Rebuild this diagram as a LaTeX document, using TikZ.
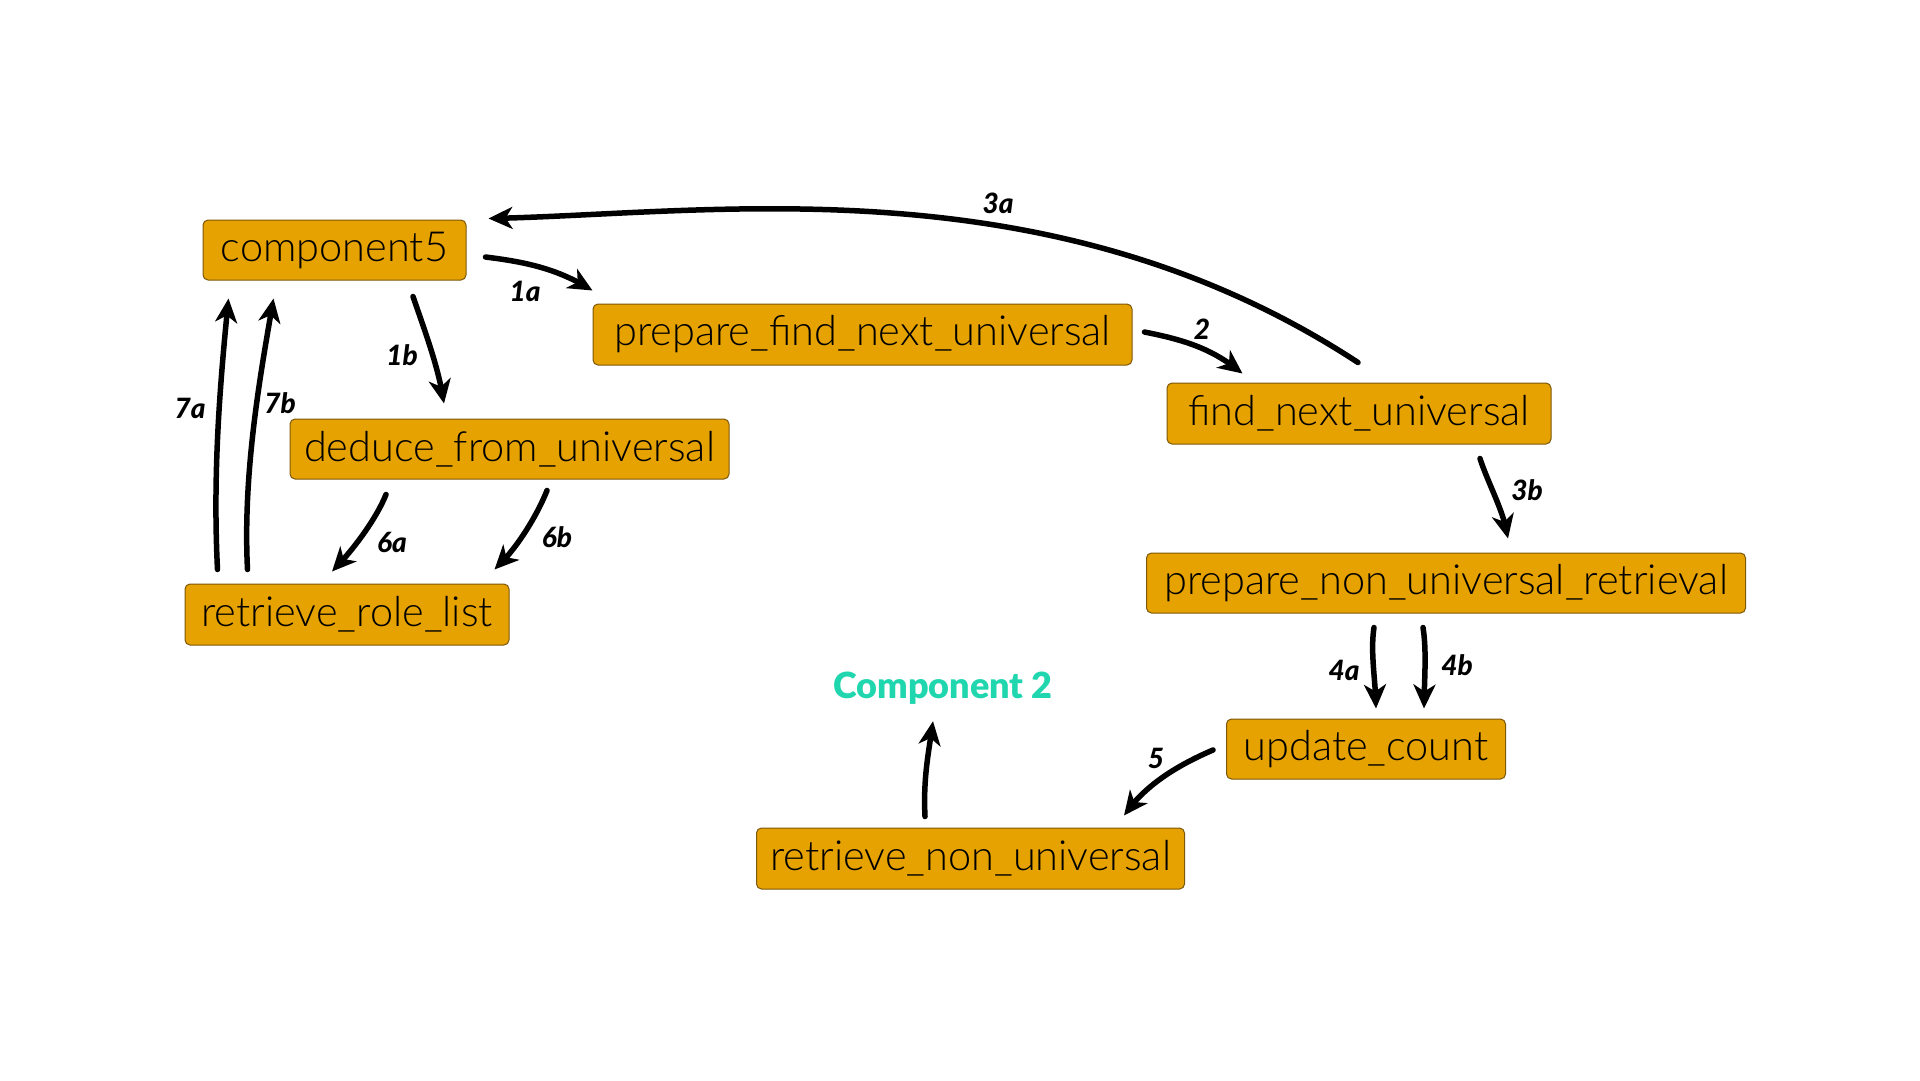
\documentclass[tikz,border=0pt]{standalone}
\usepackage{fontspec}
\setmainfont{Lato}
\newfontfamily\boxfont{Lato Light}
\newfontfamily\labfont{Lato Black}[ItalicFont={Lato Black Italic}]
\usetikzlibrary{arrows.meta,bending,calc}
\definecolor{boxfill}{RGB}{230,162,0}
\definecolor{boxline}{RGB}{125,88,10}
\definecolor{tealc}{RGB}{32,214,174}
\begin{document}
\begin{tikzpicture}[x=1pt,y=-1pt,
  box/.style={draw=boxline, line width=1pt, fill=boxfill, rounded corners=5pt, inner sep=0pt,
    font=\boxfont\fontsize{41.5}{48}\selectfont, anchor=center},
  flow/.style={line width=5.5pt, line cap=round, -{Stealth[length=24pt,width=22pt,inset=7pt,flex]}},
  lab/.style={font=\labfont\itshape\fontsize{28}{32}\selectfont, inner sep=0pt}]
\useasboundingbox[fill=white] (0,0) rectangle (1920,1080);

\node[box, minimum width=263pt, minimum height=60pt] (c5) at (334.5,250) {component5};
\node[box, minimum width=539pt, minimum height=61pt] (pfn) at (862.5,334.5) {prepare\_find\_next\_universal};
\node[box, minimum width=384pt, minimum height=61pt] (fnu) at (1359,413.5) {find\_next\_universal};
\node[box, minimum width=439pt, minimum height=60pt] (dfu) at (509.5,449) {deduce\_from\_universal};
\node[box, minimum width=324pt, minimum height=61pt] (rrl) at (347,614.5) {retrieve\_role\_list};
\node[box, minimum width=599pt, minimum height=60pt] (pnr) at (1446,583) {prepare\_non\_universal\_retrieval};
\node[box, minimum width=279pt, minimum height=60pt] (uc) at (1366,749) {update\_count};
\node[box, minimum width=428pt, minimum height=61pt] (rnu) at (970.5,858.5) {retrieve\_non\_universal};
\node[inner sep=0pt, text height=25pt, text depth=0pt, text=tealc,
  font=\labfont\fontsize{36}{40}\selectfont] (comp2) at (943,685.5) {Component 2};

% 1a
\draw[flow] ($(c5.east)+(19,7)$) .. controls +(40,5) and +(-35,-22) .. ($(pfn.north west)+(0,-13)$);
% 1b
\draw[flow] ($(c5.south)+(78.5,16)$) .. controls +(12,35) and +(-5,-35) .. ($(dfu.north)+(-65.5,-15)$);
% 3a
\draw[flow] ($(fnu.north)+(-1,-20)$) .. controls +(-310,-203) and +(220,-4) .. ($(c5.north east)+(22,-1)$);
% 2
\draw[flow] ($(pfn.east)+(12,-2.5)$) .. controls +(40,8) and +(-30,-25) .. ($(fnu.north west)+(76,-9)$);
% 3b
\draw[flow] ($(fnu.south)+(121,14)$) .. controls +(8,25) and +(-3,-25) .. ($(pnr.north)+(62,-14)$);
% 4a
\draw[flow] ($(pnr.south)+(-72,14)$) .. controls +(-4,25) and +(0,-25) .. ($(uc.north)+(10,-10)$);
% 4b
\draw[flow] ($(pnr.south)+(-23,14)$) .. controls +(4,25) and +(0,-25) .. ($(uc.north)+(58,-10)$);
% 5
\draw[flow] ($(uc.west)+(-13,1)$) .. controls +(-35,15) and +(20,-30) .. ($(rnu.north east)+(-61,-12)$);
% to Component 2
\draw[flow] ($(rnu.north)+(-45.5,-11)$) .. controls +(-2,-40) and +(-4,30) .. ($(comp2.south)+(-10,23)$);
% 6a
\draw[flow] ($(dfu.south)+(-123.5,15)$) .. controls +(-10,25) and +(20,-20) .. ($(rrl.north)+(-15,-12)$);
% 6b
\draw[flow] ($(dfu.south)+(37.5,11)$) .. controls +(-10,25) and +(22,-20) .. ($(rrl.north east)+(-15,-14)$);
% 7a
\draw[flow] ($(rrl.north west)+(33,-14)$) .. controls +(-5,-100) and +(-8,80) .. ($(c5.south west)+(26,18)$);
% 7b
\draw[flow] ($(rrl.north west)+(63,-14)$) .. controls +(-5,-100) and +(-12,70) .. ($(c5.south west)+(71,18)$);

\node[lab] (l1a) at (525,291) {1a};
\node[lab] (l1b) at (402,355) {1b};
\node[lab] (l3a) at (998,203) {3a};
\node[lab] (l2) at (1202,329) {2};
\node[lab] (l3b) at (1527,490) {3b};
\node[lab] (l4a) at (1344,670) {4a};
\node[lab] (l4b) at (1457,665) {4b};
\node[lab] (l5) at (1156,758) {5};
\node[lab] (l6a) at (392,542) {6a};
\node[lab] (l6b) at (557,537) {6b};
\node[lab] (l7a) at (190,408) {7a};
\node[lab] (l7b) at (280,403) {7b};
\end{tikzpicture}
\end{document}
